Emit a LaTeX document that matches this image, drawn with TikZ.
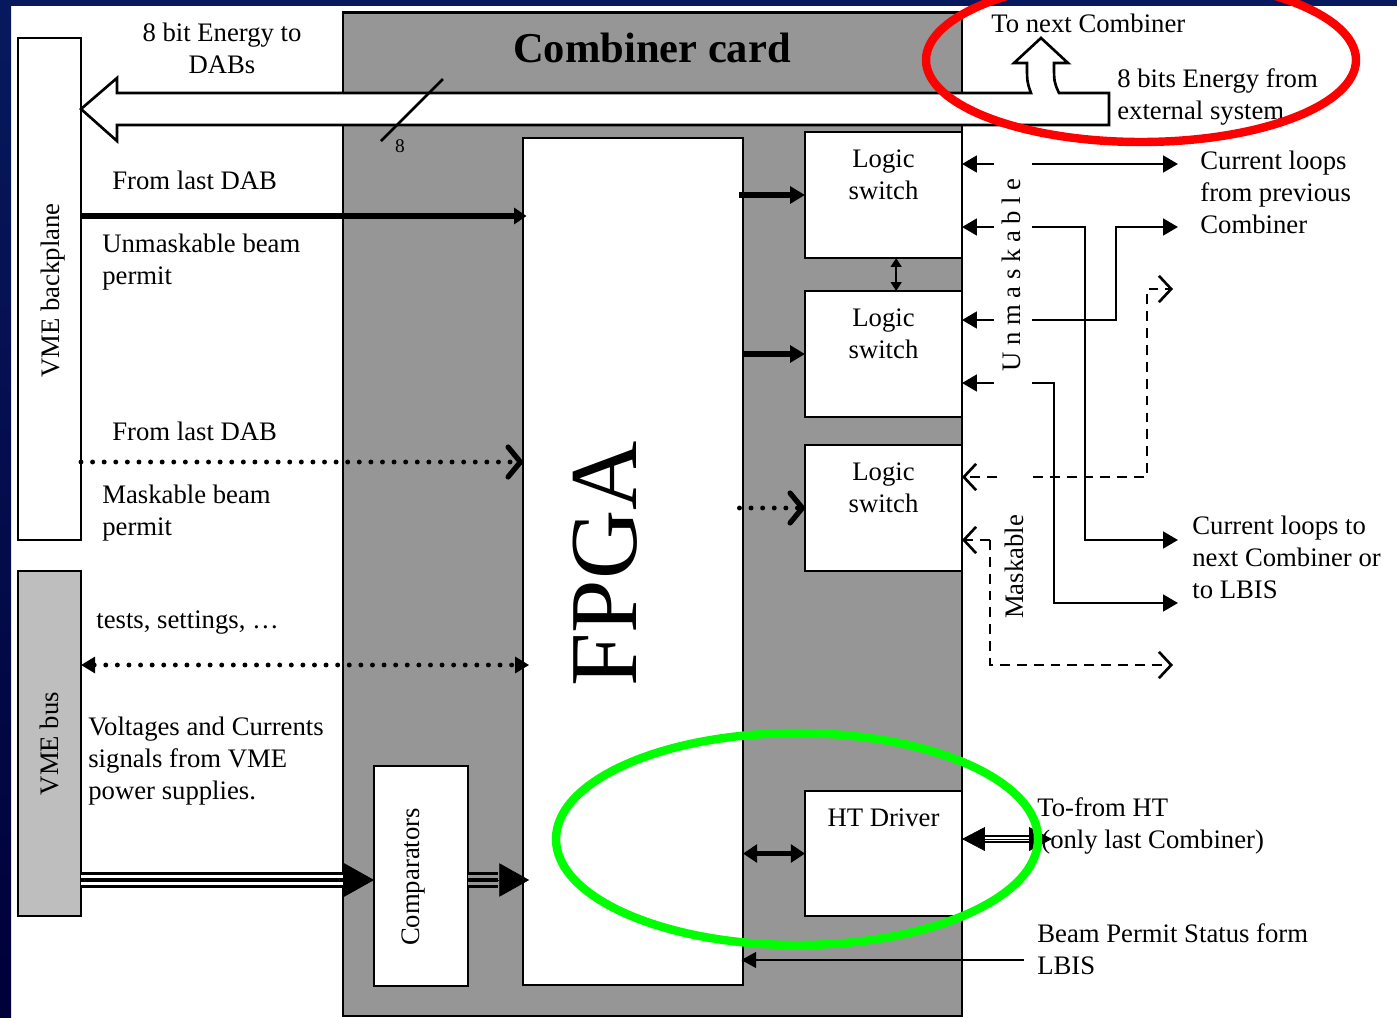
\documentclass[tikz,border=0pt]{standalone}
\usepackage{fontspec}
\setmainfont{Liberation Serif}
\usetikzlibrary{arrows.meta, positioning, calc, shapes.geometric}
\definecolor{cardgray}{HTML}{969696}
\definecolor{busgray}{HTML}{BEBEBE}
\definecolor{framenavy}{HTML}{07195E}
\definecolor{framemid}{HTML}{1B2F70}
\definecolor{framedark}{HTML}{00003A}
\definecolor{ringred}{HTML}{FF0000}
\definecolor{ringgreen}{HTML}{00FF00}
\begin{document}
\begin{tikzpicture}[x=0.02cm, y=-0.02cm,
		txt/.style={font=\fontsize{15.2}{18.2}\selectfont, inner sep=0pt, align=left, anchor=base west},
		vtxt/.style={font=\fontsize{15.2}{18.2}\selectfont, inner sep=0pt, rotate=90},
		ctxt/.style={font=\fontsize{15.2}{18.2}\selectfont, inner sep=0pt, align=center},
		blk/.style={draw=black, line width=1.6pt, fill=white, inner sep=0pt, outer sep=0pt},
		wire/.style={line width=1.5pt},
		thickwire/.style={line width=3pt},
		dotwire/.style={line width=2.8pt, line cap=round, dash pattern=on 0pt off 6.6pt},
		dashwire/.style={line width=1.5pt, dash pattern=on 5.6pt off 4pt},
		solidtip/.style={-{Triangle[length=8.5pt, width=9.5pt]}},
		opentip/.style={-{Straight Barb[length=7pt, width=15pt, line width=1.5pt]}},
		boldtip/.style={-{Straight Barb[length=7pt, width=17pt, line width=3pt, round]}},
		bigtip/.style={-{Triangle[length=17pt, width=19pt]}, line width=0.4pt},
		ring/.style={line width=4.8pt}]
	\useasboundingbox (0,0) rectangle (1397,1018);
	\fill[white] (0,0) rectangle (1397,1018);
	\fill[framenavy] (0,0) rectangle (1397,6);
	\shade[top color=framenavy, middle color=framemid, bottom color=framedark] (0,0) rectangle (11,1018);

	\node[blk, fill=cardgray, minimum width=12.38cm, minimum height=20.08cm] (card) at (652.5,514) {};
	\node[blk, minimum width=4.4cm, minimum height=16.94cm] (fpga) at (633,561.5) {};
	\node[blk, minimum width=1.26cm, minimum height=10.04cm] (back) at (49.5,289) {};
	\node[blk, fill=busgray, minimum width=1.26cm, minimum height=6.9cm] (bus) at (49.5,743.5) {};
	\node[blk, minimum width=1.88cm, minimum height=4.4cm] (comp) at (421,876) {};
	\node[blk, minimum width=3.14cm, minimum height=2.52cm] (sw1) at (883.5,195) {};
	\node[blk, minimum width=3.14cm, minimum height=2.52cm] (sw2) at (883.5,354) {};
	\node[blk, minimum width=3.14cm, minimum height=2.52cm] (sw3) at (883.5,508) {};
	\node[blk, minimum width=3.14cm, minimum height=2.5cm] (ht) at (883.5,853.5) {};

	\draw[line width=1.5pt, fill=white] (81,109) -- (117,78) -- (117,93) -- (1031,93) .. controls (1027,82) .. (1027,63) -- (1014,63) -- (1041,38) -- (1068,63) -- (1054,63) .. controls (1054,82) .. (1059,93) -- (1109,93) -- (1109,125) -- (117,125) -- (117,141) -- cycle;
	\draw[wire] (381,141) -- (443,79);

	\coordinate (unmaskin) at (81,216);
	\coordinate (maskin) at (81,462);
	\coordinate (testin) at (81,665);
	\coordinate (powerin) at (81,880);
	\coordinate (powertip) at (343,880);
	\coordinate (comptip) at (498,880);
	\coordinate (statusin) at (1024,960);
	\coordinate (extin) at (1052,839);
	\coordinate (exttip) at (985,839);
	\coordinate (extbar) at (1030,839);

	\draw[thickwire, -{Triangle[length=7pt, width=9pt]}] (back.east |- unmaskin) -- ([xshift=2pt]fpga.west |- unmaskin);
	\draw[dotwire, boldtip] (back.east |- maskin) -- (fpga.west |- maskin);
	\draw[dotwire, {Triangle[length=8pt, width=9pt]}-{Triangle[length=8pt, width=9pt]}] (bus.east |- testin) -- ([xshift=3.5pt]fpga.west |- testin);

	\draw[line width=1.5pt, double=white, double distance=5.6pt] (bus.east |- powerin) -- (powertip);
	\draw[line width=2.8pt] (bus.east |- powerin) -- (powertip);
	\draw[bigtip] (powertip) -- (comp.west |- powertip);
	\draw[line width=1.5pt, double=cardgray, double distance=5.6pt] (comp.east |- powerin) -- (comptip);
	\draw[line width=2.8pt] (comp.east |- powerin) -- (comptip);
	\draw[bigtip] (comptip) -- ([xshift=3.5pt]fpga.west |- comptip);

	\draw[thickwire, solidtip] ([xshift=-2pt]fpga.east |- sw1.west) -- (sw1.west);
	\draw[thickwire, solidtip] (fpga.east |- sw2.west) -- (sw2.west);
	\draw[dotwire, boldtip] ([xshift=-2pt]fpga.east |- sw3.west) -- (sw3.west);
	\draw[thickwire, {Triangle[length=8pt, width=10pt]}-{Triangle[length=8pt, width=10pt]}] (fpga.east |- ht.west) -- (ht.west);
	\draw[wire, {Triangle[length=5pt, width=6pt]}-{Triangle[length=5pt, width=6pt]}] ([xshift=7.2pt]sw1.south) -- ([xshift=7.2pt]sw2.north);

	\coordinate (loopa) at (994,164);
	\coordinate (loopb) at (994,227);
	\coordinate (loopc) at (994,320);
	\coordinate (loopd) at (994,383);
	\coordinate (outa) at (1032,164);
	\coordinate (outb) at (1032,227);
	\coordinate (outc) at (1032,320);
	\coordinate (outd) at (1032,383);
	\coordinate (enda) at (1178,164);
	\coordinate (endb) at (1178,227);
	\coordinate (endc) at (1178,540);
	\coordinate (endd) at (1178,603);
	\draw[wire, solidtip] (loopa) -- (sw1.east |- loopa);
	\draw[wire, solidtip] (loopb) -- (sw1.east |- loopb);
	\draw[wire, solidtip] (loopc) -- (sw2.east |- loopc);
	\draw[wire, solidtip] (loopd) -- (sw2.east |- loopd);
	\draw[wire, solidtip] (outa) -- (enda);
	\draw[wire, solidtip] (outb) -- (1085,227) -- (1085,540) -- (endc);
	\draw[wire, solidtip] (outc) -- (1116,320) -- (1116,227) -- (endb);
	\draw[wire, solidtip] (outd) -- (1054,383) -- (1054,603) -- (endd);

	\coordinate (maska) at (997,477);
	\coordinate (maskb) at (1033,477);
	\coordinate (maskc) at (1173,289);
	\coordinate (maskd) at (990,540);
	\coordinate (maske) at (1173,665);
	\draw[dashwire, opentip] (maska) -- (sw3.east |- maska);
	\draw[dashwire, opentip] (maskb) -- (1147,477) -- (1147,289) -- (maskc);
	\draw[dashwire, opentip] (maskd) -- (sw3.east |- maskd);
	\draw[dashwire, opentip] (maskd) -- (990,665) -- (maske);

	\draw[line width=1.2pt, double=white, double distance=2.4pt] (exttip) -- (extbar);
	\draw[line width=0.4pt, {Triangle[length=13pt, width=13.5pt]}-{Triangle[length=13pt, width=13.5pt]}] (ht.east |- extin) -- (extin);
	\draw[line width=1pt, -{Triangle[length=8.5pt, width=9pt]}] (statusin) -- ([xshift=-1pt]fpga.east |- statusin);

	\node[ctxt] (energyto) at (222,48) {8 bit Energy to\\DABs};
	\node[ctxt, font=\fontsize{24.2}{28}\selectfont\bfseries] (title) at (652,48) {Combiner card};
	\node[txt] (tonext) at (991,32) {To next Combiner};
	\node[txt] (energyfrom) at (1117,119) {8 bits Energy from\\external system};
	\node[ctxt, font=\fontsize{11}{13}\selectfont] (width) at (400,146) {8};
	\node[txt] (lasta) at (112,189) {From last DAB};
	\node[txt] (unmaskbeam) at (102,284) {Unmaskable beam\\permit};
	\node[txt] (lastb) at (112,440) {From last DAB};
	\node[txt] (maskbeam) at (102,535) {Maskable beam\\permit};
	\node[txt] (tests) at (96,628) {tests, settings, …};
	\node[txt] (volts) at (88,799) {Voltages and Currents\\signals from VME\\power supplies.};
	\node[vtxt] (backlabel) at (53.5,290.5) {VME backplane};
	\node[vtxt] (buslabel) at (bus.center) {VME bus};
	\node[vtxt] (complabel) at (413,877) {Comparators};
	\node[vtxt, font=\fontsize{54.6}{60}\selectfont] (fpgalabel) at (605,564) {FPGA};
	\node[ctxt, below=10.2pt of sw1.north] (swa) {Logic\\switch};
	\node[ctxt, below=10.2pt of sw2.north] (swb) {Logic\\switch};
	\node[ctxt, below=10.2pt of sw3.north] (swc) {Logic\\switch};
	\node[ctxt, below=10.2pt of ht.north] (htlabel) {HT Driver};
	\node[vtxt] (unmask) at (1011,275) {U n m a s k a b l e};
	\node[vtxt] (mask) at (1014,567) {Maskable};
	\node[txt] (prev) at (1200,233) {Current loops\\from previous\\Combiner};
	\node[txt] (next) at (1192,598) {Current loops to\\next Combiner or\\to LBIS};
	\node[txt] (tofrom) at (1037,848) {To-from HT\\\hspace*{2.3pt}(only last Combiner)};
	\node[txt] (status) at (1037,974) {Beam Permit Status form\\LBIS};

	\draw[ring, ringred] (1141,60) ellipse (215 and 82);
	\draw[ring, ringgreen] (797,839) ellipse (241 and 106);
\end{tikzpicture}
\end{document}
